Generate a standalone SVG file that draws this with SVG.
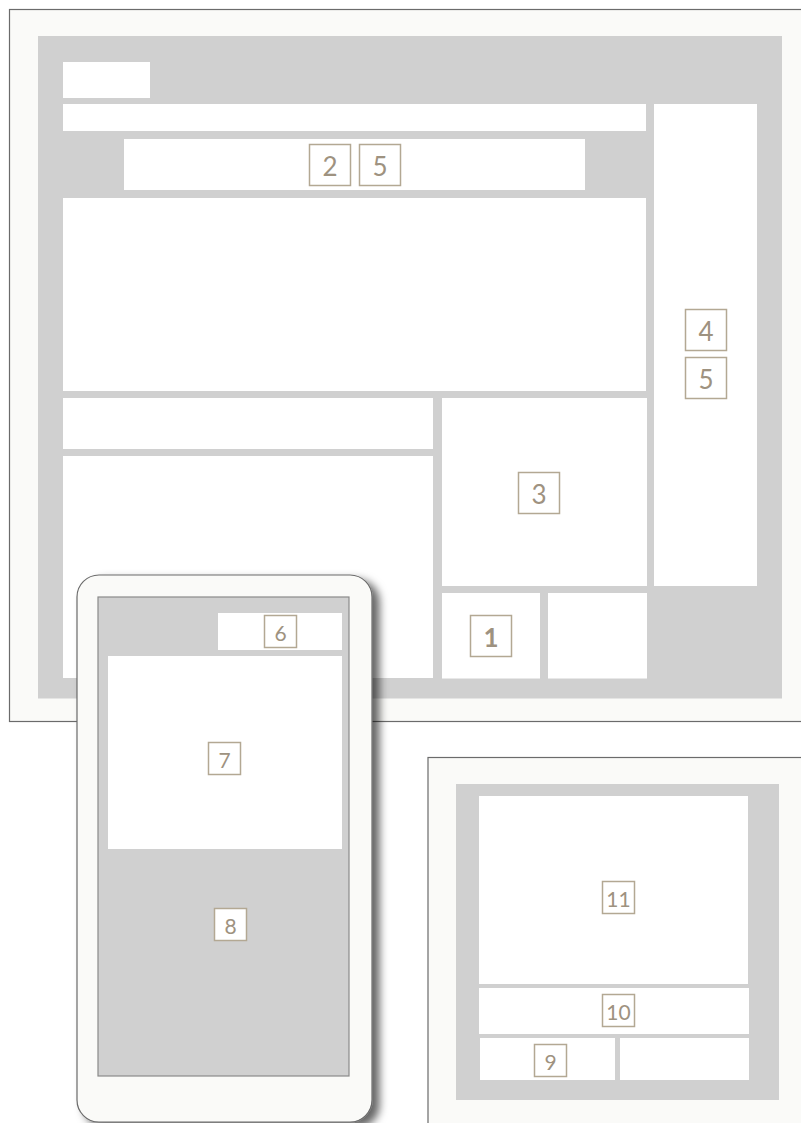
<svg xmlns="http://www.w3.org/2000/svg" width="801" height="1123" viewBox="0 0 801 1123">
<defs>
<style>
.frame{fill:#fafaf8;stroke:#6b6b6b;stroke-width:1.2}
.gray{fill:#d0d0d0}
.w{fill:#ffffff}
.lb{fill:#ffffff;stroke:#b3a893;stroke-width:1.5}
.t{font-family:Lato,"Open Sans",sans-serif;fill:#9e9280;text-anchor:middle;dominant-baseline:central}
.big{font-size:26px}
.sm{font-size:21px}
</style>
<filter id="sh" x="-10%" y="-10%" width="130%" height="130%">
<feDropShadow dx="7" dy="5" stdDeviation="4" flood-color="#000" flood-opacity="0.6"/>
</filter>
</defs>
<rect width="801" height="1123" fill="#ffffff"/>
<g id="desktop">
<rect class="frame" x="9.5" y="9.5" width="800" height="712"/>
<rect class="gray" x="38" y="36" width="744" height="662.5"/>
<rect class="w" x="63" y="62" width="87" height="36"/>
<rect class="w" x="63" y="104" width="583" height="27"/>
<rect class="w" x="124" y="139" width="461" height="51"/>
<rect class="w" x="63" y="198" width="583" height="193"/>
<rect class="w" x="654" y="104" width="103" height="482"/>
<rect class="w" x="63" y="398" width="370" height="51"/>
<rect class="w" x="63" y="456" width="370" height="222"/>
<rect class="w" x="442" y="398" width="205" height="188"/>
<rect class="w" x="442" y="593" width="98" height="85.5"/>
<rect class="w" x="548" y="593" width="99" height="85.5"/>
</g>
<g id="label-2"><rect class="lb" x="309.5" y="144.5" width="41" height="41"/><text class="t big" x="330" y="166">2</text></g>
<g id="label-5a"><rect class="lb" x="359.5" y="144.5" width="41" height="41"/><text class="t big" x="380" y="166">5</text></g>
<g id="label-4"><rect class="lb" x="685.5" y="309.5" width="41" height="41"/><text class="t big" x="706" y="331">4</text></g>
<g id="label-5b"><rect class="lb" x="685.5" y="357.5" width="41" height="41"/><text class="t big" x="706" y="379">5</text></g>
<g id="label-3"><rect class="lb" x="518.5" y="472.5" width="41" height="41"/><text class="t big" x="539" y="494">3</text></g>
<g id="label-1"><rect class="lb" x="470.5" y="615.5" width="41" height="41"/><text class="t big" x="491" y="637" font-weight="700" font-size="22">1</text></g>
<g id="tablet">
<rect class="frame" x="428" y="757.5" width="400" height="400"/>
<rect class="gray" x="456" y="784" width="323" height="316"/>
<rect class="w" x="479" y="796" width="269" height="188"/>
<rect class="w" x="479" y="988" width="270" height="46"/>
<rect class="w" x="480" y="1038" width="135" height="42"/>
<rect class="w" x="620" y="1038" width="129" height="42"/>
</g>
<g id="label-11"><rect class="lb" x="602.5" y="881.5" width="32" height="32"/><text class="t sm" x="618.5" y="898">11</text></g>
<g id="label-10"><rect class="lb" x="602.5" y="994.5" width="32" height="32"/><text class="t sm" x="618.5" y="1011">10</text></g>
<g id="label-9"><rect class="lb" x="534.5" y="1044.5" width="32" height="32"/><text class="t sm" x="550.5" y="1061">9</text></g>
<g id="phone">
<rect class="frame" x="77" y="575" width="295" height="547" rx="22" filter="url(#sh)"/>
<rect class="gray" x="98" y="597" width="251" height="479" stroke="#8a8a8a" stroke-width="1.2"/>
<rect class="w" x="218" y="613" width="124" height="37"/>
<rect class="w" x="108" y="656" width="234" height="193"/>
</g>
<g id="label-6"><rect class="lb" x="264.5" y="615.5" width="32" height="32"/><text class="t sm" x="280.5" y="632">6</text></g>
<g id="label-7"><rect class="lb" x="208.5" y="742.5" width="32" height="32"/><text class="t sm" x="224.5" y="759">7</text></g>
<g id="label-8"><rect class="lb" x="214.5" y="908.5" width="32" height="32"/><text class="t sm" x="230.5" y="925">8</text></g>
<g id="connectors"></g>
</svg>
